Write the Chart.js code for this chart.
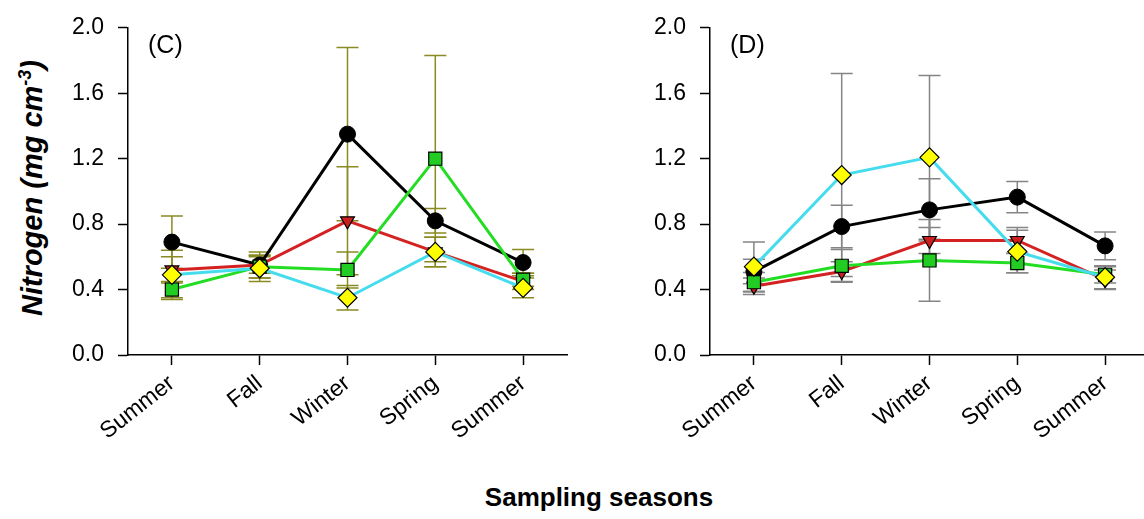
<!DOCTYPE html>
<html>
<head>
<meta charset="utf-8">
<script src="https://cdn.jsdelivr.net/npm/chart.js@4"></script>
<style>
  html, body { margin: 0; padding: 0; width: 1144px; height: 519px; overflow: hidden; background: #fff; }
  canvas { position: absolute; top: 0; }
  #chart-c { left: 60px; }
  #chart-d { left: 642px; }
  .ytitle {
    position: absolute; left: 32px; top: 188px;
    transform: translate(-50%, -50%) rotate(-90deg);
    font: italic bold 29px "Liberation Sans", Arial, sans-serif;
    white-space: nowrap; color: #000;
  }
  .ytitle sup { font-size: 18px; }
  .xtitle {
    position: absolute; left: 599px; top: 497px;
    transform: translate(-50%, -50%);
    font: bold 26px "Liberation Sans", Arial, sans-serif;
    white-space: nowrap; color: #000;
  }
</style>
</head>
<body>
<canvas id="chart-c" width="520" height="470"></canvas>
<canvas id="chart-d" width="520" height="470"></canvas>
<div class="ytitle">Nitrogen (mg cm<sup>-3</sup>)</div>
<div class="xtitle">Sampling seasons</div>
<script>
const seasons = ['Summer', 'Fall', 'Winter', 'Spring', 'Summer'];
const yTicks = [0, 0.4, 0.8, 1.2, 1.6, 2.0];

// panel (C)
const cBlack = [0.69, 0.55, 1.35, 0.82, 0.565];
const cBlackErr = [0.16, 0.08, 0.53, 0.075, 0.08];
const cRed = [0.52, 0.55, 0.82, 0.63, 0.45];
const cRedErr = [0.08, 0.05, 0.33, 0.09, 0.05];
const cGreen = [0.40, 0.54, 0.52, 1.20, 0.46];
const cGreenErr = [0.05, 0.07, 0.11, 0.63, 0.04];
const cCyan = [0.49, 0.53, 0.35, 0.63, 0.41];
const cCyanErr = [0.15, 0.08, 0.075, 0.09, 0.06];

// panel (D)
const dBlack = [0.51, 0.785, 0.887, 0.965, 0.667];
const dBlackErr = [0.075, 0.13, 0.19, 0.095, 0.085];
const dRed = [0.42, 0.51, 0.70, 0.70, 0.46];
const dRedErr = [0.05, 0.06, 0.08, 0.08, 0.06];
const dGreen = [0.445, 0.545, 0.578, 0.562, 0.49];
const dGreenErr = [0.06, 0.10, 0.25, 0.06, 0.05];
const dCyan = [0.54, 1.10, 1.208, 0.632, 0.475];
const dCyanErr = [0.15, 0.62, 0.50, 0.13, 0.07];

Chart.defaults.font.family = '"Liberation Sans", Arial, sans-serif';
Chart.defaults.color = '#000';

const errorBars = {
  id: 'errorBars',
  beforeDatasetsDraw(chart, args, opts) {
    const { ctx, scales: { y } } = chart;
    ctx.save();
    ctx.strokeStyle = opts.color;
    ctx.lineWidth = 1.5;
    chart.data.datasets.forEach((ds, di) => {
      const meta = chart.getDatasetMeta(di);
      ds.errors.forEach((e, i) => {
        const pt = meta.data[i];
        const top = y.getPixelForValue(ds.data[i] + e);
        const bot = y.getPixelForValue(ds.data[i] - e);
        ctx.beginPath();
        ctx.moveTo(pt.x, top); ctx.lineTo(pt.x, bot);
        ctx.moveTo(pt.x - 11, top); ctx.lineTo(pt.x + 11, top);
        ctx.moveTo(pt.x - 11, bot); ctx.lineTo(pt.x + 11, bot);
        ctx.stroke();
      });
    });
    ctx.restore();
  },
};

const panelLabel = {
  id: 'panelLabel',
  afterDraw(chart, args, opts) {
    const { ctx, chartArea } = chart;
    ctx.save();
    ctx.font = '25px "Liberation Sans", Arial, sans-serif';
    ctx.fillStyle = '#000';
    ctx.textBaseline = 'top';
    ctx.fillText(opts.text, chartArea.left + 20, chartArea.top + 6);
    ctx.restore();
  },
};

function makeChart(id, label, series, errColor) {
  const [black, blackErr, red, redErr, green, greenErr, cyan, cyanErr] = series;
  return new Chart(document.getElementById(id).getContext('2d'), {
    type: 'line',
    data: {
      labels: seasons,
      datasets: [
        {
          data: cyan, errors: cyanErr,
          borderColor: '#45DDEE', borderWidth: 3,
          pointStyle: 'rectRot', pointRadius: 9.5,
          pointBackgroundColor: '#FFFF00', pointBorderColor: '#000', pointBorderWidth: 1.2,
        },
        {
          data: green, errors: greenErr,
          borderColor: '#22DD22', borderWidth: 3,
          pointStyle: 'rect', pointRadius: 9.3,
          pointBackgroundColor: '#22CC22', pointBorderColor: '#000', pointBorderWidth: 1.2,
        },
        {
          data: red, errors: redErr,
          borderColor: '#D42222', borderWidth: 3,
          pointStyle: 'triangle', pointRotation: 180, pointRadius: 8,
          pointBackgroundColor: '#CC2020', pointBorderColor: '#000', pointBorderWidth: 1.2,
        },
        {
          data: black, errors: blackErr,
          borderColor: '#000', borderWidth: 3,
          pointStyle: 'circle', pointRadius: 8,
          pointBackgroundColor: '#000', pointBorderColor: '#000', pointBorderWidth: 1,
        },
      ],
    },
    options: {
      responsive: false,
      animation: false,
      layout: { padding: { top: 25, right: 13, left: 0, bottom: 0 } },
      plugins: {
        legend: { display: false },
        tooltip: { enabled: false },
        errorBars: { color: errColor },
        panelLabel: { text: label },
      },
      scales: {
        x: {
          offset: true,
          afterFit: (scale) => { scale.height = 115; },
          border: { color: '#000', width: 1.5 },
          grid: { drawOnChartArea: false, offset: false, tickLength: 10, tickWidth: 1.5, tickColor: '#000' },
          ticks: { font: { size: 23 }, maxRotation: 38, minRotation: 38, autoSkip: false, padding: 5 },
        },
        y: {
          min: 0, max: 2,
          afterFit: (scale) => { scale.width = 68; },
          afterBuildTicks: (scale) => { scale.ticks = yTicks.map((v) => ({ value: v })); },
          border: { color: '#000', width: 1.5 },
          grid: { drawOnChartArea: false, tickLength: 10, tickWidth: 1.5, tickColor: '#000' },
          ticks: { font: { size: 23 }, padding: 14, callback: (v) => Number(v).toFixed(1) },
        },
      },
    },
    plugins: [errorBars, panelLabel],
  });
}

makeChart('chart-c', '(C)', [cBlack, cBlackErr, cRed, cRedErr, cGreen, cGreenErr, cCyan, cCyanErr], '#8A8A22');
makeChart('chart-d', '(D)', [dBlack, dBlackErr, dRed, dRedErr, dGreen, dGreenErr, dCyan, dCyanErr], '#858585');
</script>
</body>
</html>
